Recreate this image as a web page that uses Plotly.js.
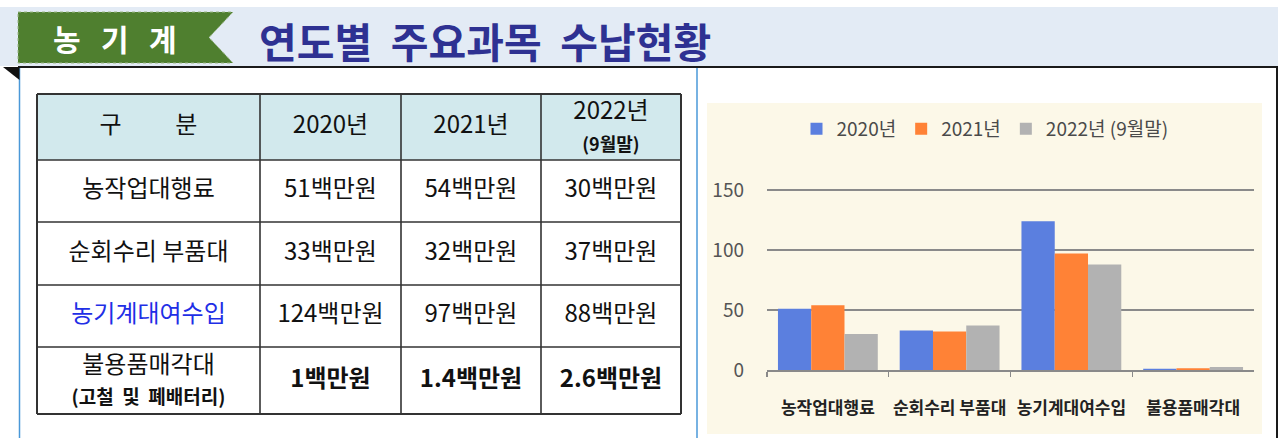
<!DOCTYPE html>
<html>
<head>
<meta charset="utf-8">
<script src="https://cdn.plot.ly/plotly-3.0.1.min.js"></script>
<style>
html,body{margin:0;padding:0;background:#ffffff;}
#chart{width:1278px;height:438px;}
</style>
</head>
<body>
<div id="chart"></div>
<script>
// ---------------- DATA ----------------
const categories = ['농작업대행료', '순회수리 부품대', '농기계대여수입', '불용품매각대'];
const tableRowLabels = ['농작업대행료', '순회수리 부품대', '농기계대여수입', '불용품매각대'];
const tableRowNote = '(고철\u00a0\u00a0및\u00a0\u00a0폐배터리)';
const seriesNames = ['2020년', '2021년', '2022년 (9월말)'];
const tableHeaderLabels = ['구\u00a0\u00a0\u00a0\u00a0\u00a0\u00a0\u00a0\u00a0\u00a0\u00a0분', '2020년', '2021년', '2022년'];
const tableHeaderNote = '(9월말)';
const values2020 = [51, 33, 124, 1];
const values2021 = [54, 32, 97, 1.4];
const values2022 = [30, 37, 88, 2.6];
const yTickValues = [0, 50, 100, 150];
const unitSuffix = '백만원';
const bannerLabel = '농\u00a0\u00a0\u00a0기\u00a0\u00a0\u00a0계';
const pageTitle = '연도별\u00a0\u00a0주요과목\u00a0\u00a0수납현황';

// ---------------- LAYOUT CONSTANTS ----------------
const W = 1278, H = 438;
const FONT = '"Noto Sans CJK KR", "Noto Sans", sans-serif';
const px = x => x / W;
const py = y => 1 - y / H;
const colEdges = [37, 260, 401, 541, 681];
const rowEdges = [94, 160, 222, 285, 347, 414];
const seriesColors = ['#5b7fdf', '#ff8236', '#b2b2b2'];

function pathPx(points) {
  return 'M ' + points.map(p => px(p[0]) + ',' + py(p[1])).join(' L ') + ' Z';
}

const shapes = [];
// header band
shapes.push({type: 'rect', xref: 'paper', yref: 'paper', x0: 0, x1: 1, y0: py(66), y1: py(7),
  fillcolor: '#e3ebf5', line: {width: 0}, layer: 'below'});
// green label
shapes.push({type: 'path', xref: 'paper', yref: 'paper',
  path: pathPx([[18, 12], [233, 12], [209, 37.5], [233, 63], [18, 63]]),
  fillcolor: '#4f7f2f', line: {color: '#9db889', width: 1, dash: 'dot'}, layer: 'below'});
// chart beige background
shapes.push({type: 'rect', xref: 'paper', yref: 'paper', x0: px(707), x1: px(1262), y0: py(434), y1: py(103),
  fillcolor: '#fcf8e8', line: {width: 0}, layer: 'below'});
// frame lines
shapes.push({type: 'line', xref: 'paper', yref: 'paper', x0: px(18), x1: 1, y0: py(67), y1: py(67),
  line: {color: '#1a1a1a', width: 2}, layer: 'below'});
shapes.push({type: 'line', xref: 'paper', yref: 'paper', x0: px(1277), x1: px(1277), y0: py(67), y1: 0,
  line: {color: '#1a1a1a', width: 2}, layer: 'below'});
[19.5, 697].forEach(x => shapes.push({type: 'line', xref: 'paper', yref: 'paper', x0: px(x), x1: px(x), y0: py(68), y1: 0,
  line: {color: '#4a98d8', width: 1.5}, layer: 'below'}));
shapes.push({type: 'path', xref: 'paper', yref: 'paper', path: pathPx([[3, 67], [19.5, 67], [19.5, 80]]),
  fillcolor: '#111111', line: {width: 0}, layer: 'below'});
// table header fill
shapes.push({type: 'rect', xref: 'paper', yref: 'paper', x0: px(colEdges[0]), x1: px(colEdges[colEdges.length - 1]),
  y0: py(rowEdges[1]), y1: py(rowEdges[0]), fillcolor: '#d2e9ed', line: {width: 0}, layer: 'below'});
// table borders
rowEdges.forEach((y, i) => shapes.push({type: 'line', xref: 'paper', yref: 'paper',
  x0: px(colEdges[0]), x1: px(colEdges[colEdges.length - 1]), y0: py(y), y1: py(y),
  line: {color: '#333333', width: (i === 0 || i === rowEdges.length - 1) ? 2 : 1.6}, layer: 'below'}));
colEdges.forEach((x, i) => shapes.push({type: 'line', xref: 'paper', yref: 'paper',
  x0: px(x), x1: px(x), y0: py(rowEdges[0]), y1: py(rowEdges[rowEdges.length - 1]),
  line: {color: '#333333', width: (i === 0 || i === colEdges.length - 1) ? 2 : 1.6}, layer: 'below'}));

// ---------------- TABLE TEXT ----------------
const tx = [], ty = [], tt = [], tc = [], ts = [];
function cell(r, c, text, color, size, dy) {
  tx.push((colEdges[c] + colEdges[c + 1]) / 2);
  ty.push((rowEdges[r] + rowEdges[r + 1]) / 2 + (dy || 0));
  tt.push(text); tc.push(color); ts.push(size);
}
tableHeaderLabels.forEach((h, c) => {
  const last = c === tableHeaderLabels.length - 1;
  const txt = last ? h + '<br><b><span style="font-size:18px">' + tableHeaderNote + '</span></b>' : h;
  cell(0, c, txt, '#111111', 24, last ? 2 : 0);
});
const seriesValues = [values2020, values2021, values2022];
tableRowLabels.forEach((lab, r) => {
  const isLast = r === tableRowLabels.length - 1;
  const labTxt = isLast ? lab + '<br><b><span style="font-size:19px">' + tableRowNote + '</span></b>' : lab;
  cell(r + 1, 0, labTxt, r === 2 ? '#1f2fe6' : '#111111', 24, isLast ? 2 : 0);
  seriesValues.forEach((vals, c) => {
    const s = vals[r] + unitSuffix;
    cell(r + 1, c + 1, isLast ? '<b>' + s + '</b>' : s, '#111111', 24);
  });
});

// ---------------- TRACES ----------------
const bars = seriesValues.map((vals, i) => ({
  type: 'bar', x: categories, y: vals, name: seriesNames[i],
  marker: {color: seriesColors[i], line: {width: 0}},
  xaxis: 'x', yaxis: 'y', hoverinfo: 'skip'
}));
const tableText = {
  type: 'scatter', mode: 'text', x: tx, y: ty, text: tt,
  textposition: 'middle center',
  textfont: {family: FONT, color: tc, size: ts},
  xaxis: 'x2', yaxis: 'y2', showlegend: false, hoverinfo: 'skip'
};

const layout = {
  width: W, height: H,
  margin: {l: 0, r: 0, t: 0, b: 0, pad: 0},
  paper_bgcolor: '#ffffff', plot_bgcolor: 'rgba(0,0,0,0)',
  font: {family: FONT, color: '#444'},
  barmode: 'group', bargap: 0.18, bargroupgap: 0,
  showlegend: true,
  legend: {orientation: 'h', x: px(985), xanchor: 'center', y: py(129), yanchor: 'middle',
    bgcolor: 'rgba(0,0,0,0)', font: {family: FONT, size: 19, color: '#4a4a4a'},
    itemwidth: 30, tracegroupgap: 0, itemclick: false},
  xaxis: {
    domain: [px(767), px(1254)], anchor: 'y', type: 'category',
    showgrid: false, zeroline: false,
    showline: true, linecolor: '#8a8a8a', linewidth: 1.5,
    ticks: 'outside', tickson: 'boundaries', ticklen: 5, tickcolor: '#8a8a8a', tickwidth: 1.2,
    tickangle: 0,
    tickfont: {family: FONT, size: 17, color: '#222222', weight: 700},
    ticklabelstandoff: 22
  },
  yaxis: {
    domain: [py(370), py(188.8)], anchor: 'x', range: [0, 151],
    tickvals: yTickValues, showgrid: true, gridcolor: '#8a8a8a', gridwidth: 1.5,
    zeroline: false, showline: false, ticks: '',
    tickfont: {family: FONT, size: 19, color: '#555555'},
    ticklabelstandoff: 22
  },
  xaxis2: {domain: [0, 1], anchor: 'y2', range: [0, W], visible: false, fixedrange: true},
  yaxis2: {domain: [0, 1], anchor: 'x2', range: [H, 0], visible: false, fixedrange: true},
  shapes: shapes,
  annotations: [
    {xref: 'paper', yref: 'paper', x: px(115), y: py(37.5), xanchor: 'center', yanchor: 'middle',
      text: '<b>' + bannerLabel + '</b>', showarrow: false,
      font: {family: FONT, size: 30, color: '#ffffff'}},
    {xref: 'paper', yref: 'paper', x: px(257), y: py(40), xanchor: 'left', yanchor: 'middle',
      text: '<b>' + pageTitle + '</b>', showarrow: false,
      font: {family: FONT, size: 41, color: '#2e3192'}}
  ]
};

Plotly.newPlot('chart', bars.concat([tableText]), layout, {staticPlot: true, displayModeBar: false});
</script>
</body>
</html>
